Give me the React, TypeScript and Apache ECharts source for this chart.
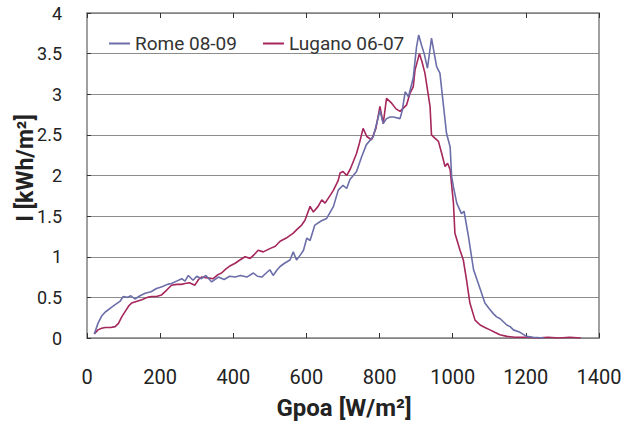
import React, { useEffect, useRef } from "react";
import * as echarts from "echarts";

const seriesNames = ["Rome 08-09", "Lugano 06-07"];
const seriesColors = ["#6b6ea8", "#a5275c"];

const xTicks = [0, 200, 400, 600, 800, 1000, 1200, 1400];
const yTicks = [0, 0.5, 1, 1.5, 2, 2.5, 3, 3.5, 4];

// [Gpoa W/m2, I kWh/m2]
const rome: [number, number][] = [
  [20, 0.05], [30, 0.18], [40, 0.27], [50, 0.32], [65, 0.37], [77, 0.41], [90, 0.45],
  [99, 0.51], [110, 0.5], [120, 0.52], [131, 0.48], [145, 0.52], [159, 0.55], [175, 0.57],
  [190, 0.61], [205, 0.63], [220, 0.66], [231, 0.67], [245, 0.7], [259, 0.73], [268, 0.7],
  [277, 0.77], [290, 0.71], [300, 0.76], [313, 0.73], [325, 0.77], [341, 0.69], [359, 0.75],
  [375, 0.72], [390, 0.76], [405, 0.75], [420, 0.77], [437, 0.75], [455, 0.8], [466, 0.76],
  [478, 0.75], [490, 0.8], [500, 0.84], [509, 0.77], [520, 0.84], [528, 0.88], [540, 0.92],
  [555, 0.96], [564, 1.06], [573, 0.96], [583, 1.02], [592, 1.08], [601, 1.23], [610, 1.2],
  [623, 1.39], [640, 1.44], [655, 1.47], [674, 1.62], [687, 1.82], [700, 1.88], [710, 1.84],
  [719, 1.95], [737, 2.05], [751, 2.23], [764, 2.38], [783, 2.48], [801, 2.8], [810, 2.64],
  [819, 2.7], [829, 2.72], [838, 2.72], [856, 2.7], [862, 2.8], [870, 3.03], [879, 2.97],
  [892, 3.2], [901, 3.58], [907, 3.73], [915, 3.6], [922, 3.5], [931, 3.32], [942, 3.69],
  [956, 3.34], [965, 3.26], [974, 2.89], [983, 2.52], [993, 2.35], [997, 1.99], [1002, 1.86],
  [1011, 1.66], [1024, 1.53], [1031, 1.56], [1043, 1.25], [1057, 0.84], [1070, 0.67],
  [1088, 0.43], [1100, 0.36], [1111, 0.3], [1120, 0.26], [1129, 0.24], [1148, 0.16],
  [1157, 0.14], [1166, 0.1], [1184, 0.07], [1202, 0.02], [1220, 0.01], [1250, 0.0],
];

const lugano: [number, number][] = [
  [20, 0.05], [30, 0.1], [40, 0.12], [50, 0.13], [65, 0.13], [77, 0.14], [86, 0.18],
  [95, 0.26], [105, 0.33], [115, 0.4], [122, 0.43], [135, 0.45], [150, 0.47], [165, 0.5],
  [177, 0.51], [190, 0.51], [204, 0.53], [218, 0.59], [231, 0.65], [245, 0.66], [258, 0.66],
  [268, 0.67], [280, 0.68], [295, 0.65], [305, 0.72], [313, 0.75], [330, 0.74], [345, 0.73],
  [358, 0.78], [368, 0.8], [380, 0.85], [392, 0.89], [405, 0.92], [418, 0.96], [432, 1.0],
  [446, 0.98], [458, 1.03], [468, 1.08], [482, 1.06], [500, 1.1], [515, 1.13], [528, 1.19],
  [545, 1.23], [564, 1.29], [575, 1.34], [587, 1.39], [596, 1.45], [610, 1.62], [619, 1.55],
  [632, 1.62], [642, 1.7], [651, 1.66], [664, 1.75], [674, 1.82], [687, 1.94], [692, 2.03],
  [700, 2.05], [710, 2.0], [720, 2.08], [737, 2.27], [745, 2.4], [755, 2.58], [765, 2.48],
  [778, 2.44], [790, 2.58], [801, 2.85], [810, 2.64], [819, 2.95], [833, 2.89], [845, 2.82],
  [856, 2.79], [865, 2.83], [874, 2.87], [883, 3.01], [892, 3.09], [897, 3.3], [909, 3.5],
  [916, 3.4], [924, 3.26], [938, 2.85], [942, 2.5], [951, 2.46], [961, 2.42], [970, 2.27],
  [979, 2.11], [986, 2.15], [993, 2.07], [1002, 1.66], [1006, 1.29], [1020, 1.08],
  [1029, 0.96], [1038, 0.71], [1047, 0.43], [1061, 0.22], [1075, 0.16], [1088, 0.13],
  [1102, 0.1], [1115, 0.07], [1129, 0.04], [1148, 0.02], [1170, 0.01], [1200, 0.01],
  [1230, 0.0], [1260, 0.01], [1290, 0.0], [1320, 0.01], [1350, 0.0],
];

const seriesData = [rome, lugano];

export default function App() {
  const ref = useRef<HTMLDivElement>(null);
  useEffect(() => {
    const chart = echarts.init(ref.current!, null, { renderer: "svg" });
    const font = "Roboto";
    const axisColor = "#808080";
    chart.setOption({
      animation: false,
      backgroundColor: "#ffffff",
      grid: { left: 87, right: 26, top: 13, bottom: 89, containLabel: false },
      legend: {
        data: seriesNames,
        left: 104,
        top: 29,
        icon: "rect",
        itemWidth: 21,
        itemHeight: 2,
        itemGap: 26,
        textStyle: { fontFamily: font, fontSize: 19, color: "#333" },
      },
      xAxis: [
        {
          type: "value",
          min: xTicks[0],
          max: xTicks[xTicks.length - 1],
          interval: 200,
          axisLine: { show: true, lineStyle: { color: axisColor, width: 1.5 } },
          axisTick: { show: true, inside: true, length: 5, lineStyle: { color: "#333" } },
          splitLine: { show: false },
          axisLabel: {
            fontFamily: font,
            fontSize: 20,
            color: "#222",
            margin: 29,
            formatter: (v: number) => String(v),
          },
        },
        {
          type: "value",
          position: "top",
          min: xTicks[0],
          max: xTicks[xTicks.length - 1],
          interval: 200,
          axisLine: { show: true, onZero: false, lineStyle: { color: axisColor, width: 1.5 } },
          axisTick: { show: true, inside: true, length: 5, lineStyle: { color: "#333" } },
          splitLine: { show: false },
          axisLabel: { show: false },
        },
      ],
      yAxis: [
        {
          type: "value",
          min: yTicks[0],
          max: yTicks[yTicks.length - 1],
          interval: 0.5,
          axisLine: { show: true, lineStyle: { color: axisColor, width: 1.5 } },
          axisTick: { show: true, inside: true, length: 4, lineStyle: { color: "#333" } },
          splitLine: { show: true, lineStyle: { color: "#8c8c8c", width: 1 } },
          axisLabel: {
            fontFamily: font,
            fontSize: 18,
            color: "#222",
            margin: 25,
            formatter: (v: number) => String(v),
          },
        },
        {
          type: "value",
          position: "right",
          min: yTicks[0],
          max: yTicks[yTicks.length - 1],
          interval: 0.5,
          axisLine: { show: true, onZero: false, lineStyle: { color: axisColor, width: 1.5 } },
          axisTick: { show: false },
          splitLine: { show: false },
          axisLabel: { show: false },
        },
      ],
      series: seriesNames.map((name, i) => ({
        name,
        type: "line",
        data: seriesData[i],
        showSymbol: false,
        symbol: "none",
        color: seriesColors[i],
        lineStyle: { color: seriesColors[i], width: 1.6 },
        z: i === 0 ? 3 : 2,
      })),
      graphic: [
        {
          type: "text",
          x: 344,
          y: 408,
          style: {
            text: "Gpoa [W/m²]",
            fontFamily: font,
            fontSize: 24,
            fontWeight: "bold",
            fill: "#222",
            align: "center",
            verticalAlign: "middle",
          },
        },
        {
          type: "text",
          x: 25,
          y: 168,
          rotation: Math.PI / 2,
          style: {
            text: "I [kWh/m²]",
            fontFamily: font,
            fontSize: 23,
            fontWeight: "bold",
            fill: "#222",
            align: "center",
            verticalAlign: "middle",
          },
        },
      ],
    });
    return () => chart.dispose();
  }, []);
  return (
    <div
      ref={ref}
      style={{ position: "fixed", left: 0, top: 0, width: 625, height: 427 }}
    />
  );
}
